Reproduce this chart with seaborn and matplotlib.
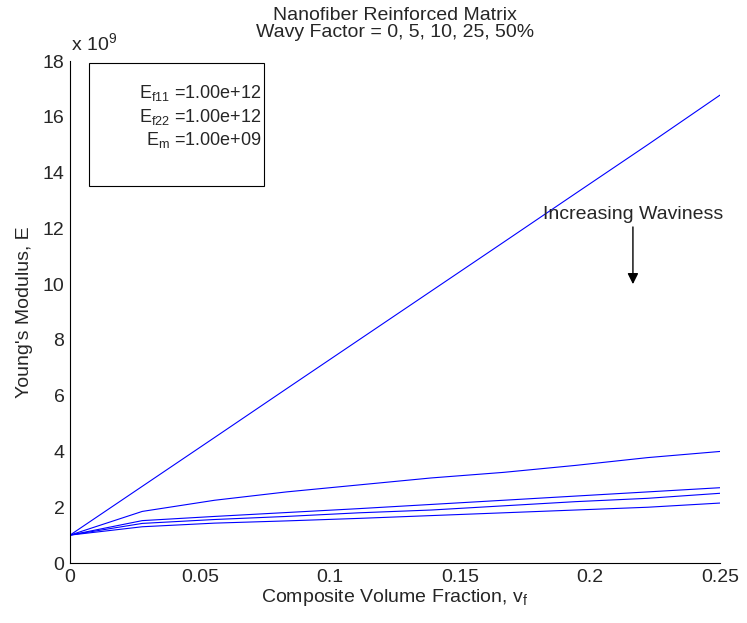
import numpy as np
import pandas as pd
import matplotlib
matplotlib.use("Agg")
import matplotlib.pyplot as plt
from matplotlib.patches import Rectangle
import seaborn as sns

# volume fraction grid (0 .. 0.25 in 9 steps)
vf = [0.0, 0.0278, 0.0556, 0.0833, 0.1111, 0.1389, 0.1667, 0.1944, 0.2222, 0.25]

# Young's modulus, units of 1e9, one list per wavy factor
E_wavy_0 = [1.0, 2.75, 4.5, 6.25, 8.0, 9.75, 11.5, 13.25, 15.0, 16.78]
E_wavy_5 = [1.0, 1.85, 2.25, 2.55, 2.8, 3.05, 3.25, 3.5, 3.78, 4.0]
E_wavy_10 = [1.0, 1.52, 1.67, 1.81, 1.95, 2.1, 2.25, 2.4, 2.55, 2.7]
E_wavy_25 = [1.0, 1.42, 1.56, 1.67, 1.8, 1.9, 2.05, 2.2, 2.32, 2.5]
E_wavy_50 = [1.0, 1.3, 1.43, 1.51, 1.6, 1.7, 1.8, 1.9, 2.0, 2.15]

series = {"0": E_wavy_0, "5": E_wavy_5, "10": E_wavy_10, "25": E_wavy_25, "50": E_wavy_50}
df = pd.concat([pd.DataFrame({"vf": vf, "E": v, "wavy": k}) for k, v in series.items()])

sns.set_style("white")
plt.rcParams["font.family"] = ["Liberation Sans", "DejaVu Sans"]
plt.rcParams["mathtext.fontset"] = "custom"
plt.rcParams["mathtext.rm"] = "Liberation Sans"
plt.rcParams["mathtext.it"] = "Liberation Sans"
plt.rcParams["mathtext.default"] = "regular"

fig = plt.figure(figsize=(7.47, 6.23), dpi=100)
ax = fig.add_axes([0.0937, 0.0963, 0.8702, 0.8057])

sns.lineplot(data=df, x="vf", y="E", units="wavy", estimator=None,
             color=(0, 0, 1), linewidth=0.8, ax=ax, legend=False)

fs = 14
ax.set_xlim(0, 0.25)
ax.set_ylim(0, 18)
ax.set_xticks([0, 0.05, 0.1, 0.15, 0.2, 0.25])
ax.set_xticklabels(["0", "0.05", "0.1", "0.15", "0.2", "0.25"], fontsize=fs)
ax.set_yticks(range(0, 19, 2))
ax.set_yticklabels([str(t) for t in range(0, 19, 2)], fontsize=fs)
ax.tick_params(direction="in", length=5, width=0.6, pad=4)
sns.despine(ax=ax)
for s in ax.spines.values():
    s.set_linewidth(0.8)
    s.set_color("black")

ax.set_xlabel("Composite Volume Fraction, v$_f$", fontsize=fs, labelpad=1)
ax.set_ylabel("Young's Modulus, E", fontsize=fs, labelpad=7)
ax.set_title("Nanofiber Reinforced Matrix\nWavy Factor = 0, 5, 10, 25, 50%", fontsize=fs, pad=17,
             linespacing=1.0)
ax.text(0.0005, 18.25, r"x 10$^9$", fontsize=fs, ha="left", va="bottom")

# material property box
ax.add_patch(Rectangle((0.0073, 13.52), 0.0673, 4.41, fill=False, edgecolor="black", linewidth=0.8))
ax.text(0.0735, 16.85, r"E$_{f11}$ =1.00e+12", fontsize=13, ha="right", va="center")
ax.text(0.0735, 16.0, r"E$_{f22}$ =1.00e+12", fontsize=13, ha="right", va="center")
ax.text(0.0735, 15.17, r"E$_m$ =1.00e+09", fontsize=13, ha="right", va="center")

ax.text(0.2165, 12.5, "Increasing Waviness", fontsize=fs, ha="center", va="center")
ax.annotate("", xy=(0.2165, 9.9), xytext=(0.2165, 12.15),
            arrowprops=dict(arrowstyle="-|>", color="black", lw=1.0, mutation_scale=16))

fig.savefig("out.png", dpi=100)
